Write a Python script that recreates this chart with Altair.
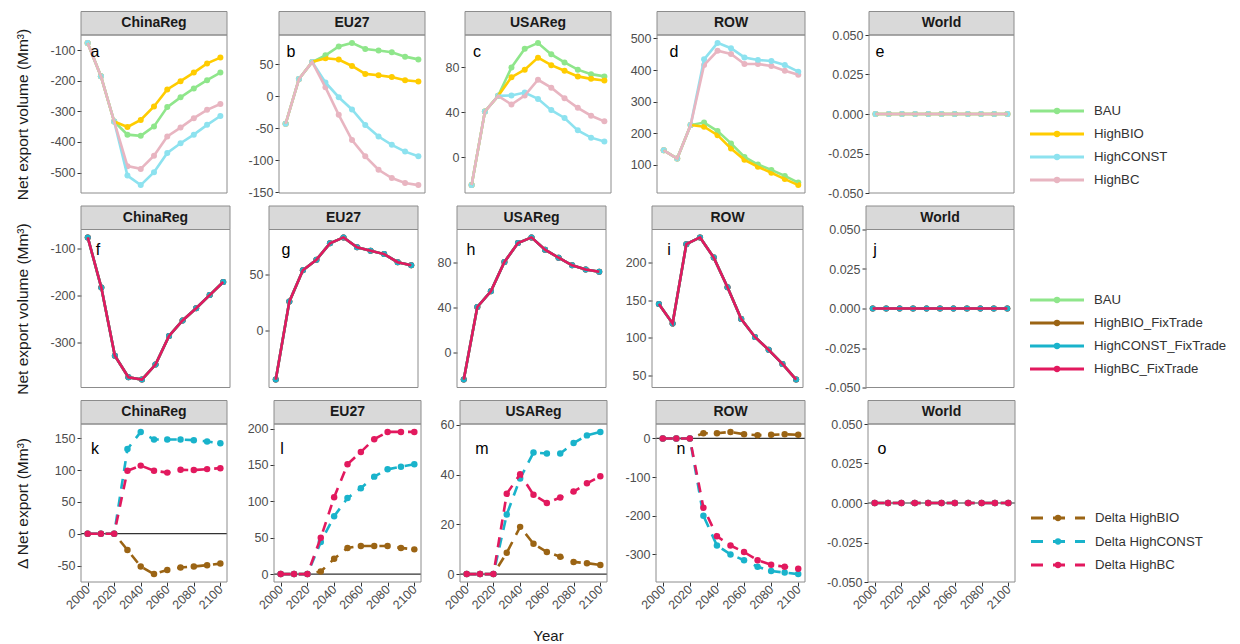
import altair as alt
import pandas as pd

years = [2000, 2010, 2020, 2030, 2040, 2050, 2060, 2070, 2080, 2090, 2100]
regions = ["ChinaReg", "EU27", "USAReg", "ROW", "World"]

# ---------- Row 1 (a-e): net export volume by scenario ----------
bau = {
    "ChinaReg": [-76, -185, -333, -376, -380, -349, -286, -254, -225, -198, -173],
    "EU27": [-43, 27, 53.6, 64, 78, 83.5, 74, 71.6, 69, 62, 57.7],
    "USAReg": [-24.7, 40.8, 54.7, 80, 96.6, 101.8, 91.6, 84.4, 78, 74, 72],
    "ROW": [146, 120, 226, 234, 207, 168, 125, 101, 84, 65, 44],
    "World": [0, 0, 0, 0, 0, 0, 0, 0, 0, 0, 0],
}
high_bio = {
    "ChinaReg": [-76, -185, -333, -351, -328, -284, -228, -201, -173, -143, -124],
    "EU27": [-43, 27, 53.6, 59.5, 57.5, 47.4, 35, 33, 30, 25, 23],
    "USAReg": [-24.7, 40.8, 54.7, 71.3, 78, 88.7, 82, 77, 72, 69.8, 68.4],
    "ROW": [146, 120, 226, 221, 194, 152, 116, 94, 75, 55, 36],
    "World": [0, 0, 0, 0, 0, 0, 0, 0, 0, 0, 0],
}
high_const = {
    "ChinaReg": [-76, -185, -333, -510, -541, -499, -436, -404, -376, -344, -315],
    "EU27": [-43, 27, 53.6, 21.6, -1.5, -20.6, -45, -63, -76, -86.6, -94],
    "USAReg": [-24.7, 40.8, 54.7, 55, 57.6, 52, 42, 35, 24, 17.5, 14],
    "ROW": [146, 120, 226, 434, 486, 469, 440, 432, 429, 416, 395],
    "World": [0, 0, 0, 0, 0, 0, 0, 0, 0, 0, 0],
}
high_bc = {
    "ChinaReg": [-76, -185, -333, -479, -488, -445, -382, -353, -322, -295, -276],
    "EU27": [-43, 27, 53.6, 14, -29, -68.5, -94, -115, -128, -135.6, -139],
    "USAReg": [-24.7, 40.8, 54.7, 47, 55, 69, 62, 52.5, 44, 37, 32],
    "ROW": [146, 120, 226, 416, 461, 451, 419, 419, 413, 398, 385],
    "World": [0, 0, 0, 0, 0, 0, 0, 0, 0, 0, 0],
}

# ---------- Row 2 (f-j): FixTrade scenarios (all coincide) ----------
fixtrade = {
    "ChinaReg": [-77, -184, -329, -375, -380, -348, -287, -254, -228, -200, -172],
    "EU27": [-44, 25.6, 53.5, 63, 77.6, 82.9, 74, 71, 68, 60.8, 58],
    "USAReg": [-24, 40.6, 54.6, 80.6, 97.5, 102.5, 91.6, 84.4, 77.7, 74, 72],
    "ROW": [145, 119, 225, 234, 207, 167.5, 125, 101, 83.8, 65, 44],
    "World": [0, 0, 0, 0, 0, 0, 0, 0, 0, 0, 0],
}

# ---------- Row 3 (k-o): delta net export ----------
delta_bio = {
    "ChinaReg": [0, 0, 0, -25.5, -51.6, -63.5, -57, -53, -51.6, -49.5, -47],
    "EU27": [0, 0, 0, 3.6, 21, 36, 38.6, 38.6, 38.6, 36, 34],
    "USAReg": [0, 0, 0, 8.6, 19, 12.2, 8.9, 7, 4.9, 4.4, 3.7],
    "ROW": [0, 0, 0, 13.6, 13.6, 17, 11, 8.5, 9.4, 11, 9.4],
    "World": [0, 0, 0, 0, 0, 0, 0, 0, 0, 0, 0],
}
delta_const = {
    "ChinaReg": [0, 0, 0, 133, 160, 148, 148, 148, 147, 145, 142],
    "EU27": [0, 0, 0, 44, 79.5, 104.5, 118, 134, 144, 147.7, 151],
    "USAReg": [0, 0, 0, 24, 38.5, 48.9, 48.5, 48.5, 52.7, 55.8, 57.2],
    "ROW": [0, 0, 0, -200, -277, -300, -315, -332, -343, -347, -351],
    "World": [0, 0, 0, 0, 0, 0, 0, 0, 0, 0, 0],
}
delta_bc = {
    "ChinaReg": [0, 0, 0, 99, 107, 99, 96, 100.5, 100, 101.5, 103],
    "EU27": [0, 0, 0, 50, 105.5, 151, 168, 185.5, 195.5, 195.5, 195.5],
    "USAReg": [0, 0, 0, 32.3, 40.2, 31.9, 28.6, 30.8, 33.2, 36.5, 39.4],
    "ROW": [0, 0, 0, -179, -253, -277, -294, -315, -327, -332, -337],
    "World": [0, 0, 0, 0, 0, 0, 0, 0, 0, 0, 0],
}

# ---------- Series names, colours and tick labels ----------
row1_names = ["BAU", "HighBIO", "HighCONST", "HighBC"]
row1_colors = ["#8fe68b", "#ffcc00", "#8de2ef", "#e8b5c1"]
row2_names = ["BAU", "HighBIO_FixTrade", "HighCONST_FixTrade", "HighBC_FixTrade"]
row2_colors = ["#8fe68b", "#9b6414", "#19b3cb", "#e2195e"]
row3_names = ["Delta HighBIO", "Delta HighCONST", "Delta HighBC"]
row3_colors = ["#9b6414", "#19b3cb", "#e2195e"]

letters = [["a", "b", "c", "d", "e"], ["f", "g", "h", "i", "j"], ["k", "l", "m", "n", "o"]]
world_ticks = [-0.05, -0.025, 0, 0.025, 0.05]
row1_ticks = {"ChinaReg": [-500, -400, -300, -200, -100], "EU27": [-150, -100, -50, 0, 50],
              "USAReg": [0, 40, 80], "ROW": [100, 200, 300, 400, 500]}
row2_ticks = {"ChinaReg": [-300, -200, -100], "EU27": [0, 50],
              "USAReg": [0, 40, 80], "ROW": [50, 100, 150, 200]}
row3_ticks = {"ChinaReg": [-50, 0, 50, 100, 150], "EU27": [0, 50, 100, 150, 200],
              "USAReg": [0, 20, 40, 60], "ROW": [-300, -200, -100, 0]}
year_ticks = [2000, 2020, 2040, 2060, 2080, 2100]

ytitle_vol = "Net export volume (Mm\u00b3)"
ytitle_delta = "\u0394 Net export (Mm\u00b3)"


def long_table(series_dicts, names):
    recs = []
    for name, d in zip(names, series_dicts):
        for r in regions:
            for y, v in zip(years, d[r]):
                recs.append({"region": r, "series": name, "year": y, "value": v})
    return pd.DataFrame(recs)


df1 = long_table([bau, high_bio, high_const, high_bc], row1_names)
df2 = long_table([fixtrade, fixtrade, fixtrade, fixtrade], row2_names)
df3 = long_table([delta_bio, delta_const, delta_bc], row3_names)

# ---------- layout (pixels) ----------
H = 158
STRIP = 23.5
FONT = "Liberation Sans"
GRAY = "#8c8c8c"
LAYOUT = [
    dict(lefts=[82, 280, 466, 658, 870], rights=[228, 426, 612, 806, 1015],
         ldx=[14, 12, 12, 17, 11], ldy=17, leg_y=[76, 145]),
    dict(lefts=[82, 270, 458, 653, 867], rights=[231, 419, 607, 804, 1015],
         ldx=[17, 17, 14, 17, 9], ldy=20, leg_y=[70.5, 139.5]),
    dict(lefts=[82, 275, 461, 657, 869], rights=[228, 422, 608, 806, 1016],
         ldx=[14, 8, 22, 25, 14], ldy=25, leg_y=[94, 141]),
]
DASH = [10, 8]
MINUS_FIX = "replace(datum.label, '\u2212', '-')"


def y_enc(row, region, first_col, title):
    kw = dict(values=world_ticks if region == "World" else [row1_ticks, row2_ticks, row3_ticks][row][region],
              labelExpr=MINUS_FIX, tickSize=4, tickColor="#333333", labelColor="#4d4d4d",
              labelFontSize=12.5, labelPadding=2, domain=False, grid=False)
    if region == "World":
        kw["format"] = ".3f"
    if first_col:
        kw.update(minExtent=40, maxExtent=40, titlePadding=11, titleFontSize=15.5,
                  titleColor="#1a1a1a", titleFontWeight="normal")
    if region == "World":
        sc = alt.Scale(domain=[-0.05, 0.05], nice=False, zero=False)
    else:
        sc = alt.Scale(zero=False, nice=False, padding=7.9)
    return alt.Y("value:Q", scale=sc, axis=alt.Axis(**kw), title=title if first_col else None)


def x_enc(row, with_title):
    sc = alt.Scale(domain=[1995, 2105], nice=False, zero=False)
    if row < 2:
        return alt.X("year:Q", scale=sc, axis=None)
    kw = dict(values=year_ticks, format="d", labelAngle=315, labelAlign="right", labelBaseline="middle",
              labelOverlap=False, tickSize=4, tickColor="#333333", labelColor="#4d4d4d",
              labelFontSize=12.5, labelPadding=1, domain=False, grid=False)
    if with_title:
        kw.update(titleFontSize=15, titleColor="#1a1a1a", titleFontWeight="normal",
                  titleX=88, titleY=53, titleBaseline="middle")
        return alt.X("year:Q", scale=sc, axis=alt.Axis(**kw), title="Year")
    return alt.X("year:Q", scale=sc, axis=alt.Axis(**kw), title=None)


def panel(row, ci, df, names, colors):
    lay = LAYOUT[row]
    W = lay["rights"][ci] - lay["lefts"][ci]
    region = regions[ci]
    sub = df[df.region == region]
    ytitle = ytitle_delta if row == 2 else ytitle_vol
    ye = y_enc(row, region, ci == 0, ytitle)
    xe = x_enc(row, row == 2 and ci == 2)
    lab = pd.DataFrame({"label": [region], "letter": [letters[row][ci]]})
    layers = [
        alt.Chart(lab).mark_rect(fill="#d9d9d9", stroke=GRAY, strokeWidth=1).encode(
            x=alt.value(0), x2=alt.value(W), y=alt.value(-STRIP), y2=alt.value(0)),
        alt.Chart(lab).mark_text(fontWeight="bold", fontSize=14, color="#1a1a1a", font=FONT,
                                 baseline="middle", align="center").encode(
            x=alt.value(W / 2), y=alt.value(-STRIP / 2), text="label:N"),
    ]
    if row == 2:
        layers.append(alt.Chart(pd.DataFrame({"value": [0.0]})).mark_rule(
            color="#333333", strokeWidth=1.2).encode(y=ye))
        for n, c in zip(names, colors):
            d = sub[sub.series == n]
            layers.append(alt.Chart(d).mark_line(color=c, strokeWidth=2.6, strokeDash=DASH).encode(x=xe, y=ye))
            layers.append(alt.Chart(d).mark_point(color=c, filled=True, opacity=1, size=42).encode(x=xe, y=ye))
    else:
        # points first (HighCONST on top), then lines (HighBC on top)
        pt_order = [names[0], names[1], names[3], names[2]]
        for n in pt_order:
            c = colors[names.index(n)]
            d = sub[sub.series == n]
            layers.append(alt.Chart(d).mark_point(color=c, filled=True, opacity=1, size=36).encode(x=xe, y=ye))
        for n, c in zip(names, colors):
            d = sub[sub.series == n]
            layers.append(alt.Chart(d).mark_line(color=c, strokeWidth=2.6).encode(x=xe, y=ye))
    layers.append(alt.Chart(lab).mark_rect(fillOpacity=0, stroke=GRAY, strokeWidth=1).encode(
        x=alt.value(0), x2=alt.value(W), y=alt.value(0), y2=alt.value(H)))
    layers.append(alt.Chart(lab).mark_text(fontSize=16, color="black", font=FONT,
                                           align="center", baseline="middle").encode(
        x=alt.value(lay["ldx"][ci]), y=alt.value(lay["ldy"]), text="letter:N"))
    return alt.layer(*layers).properties(width=W, height=H)


def spacer(w):
    return alt.Chart(pd.DataFrame({"v": [0]})).mark_point(opacity=0).encode(
        x=alt.value(0), y=alt.value(0)).properties(width=w, height=H)


def legend(row, names, colors, dashed):
    lay = LAYOUT[row]
    d = pd.DataFrame({"series": names, "color": colors})
    ye = alt.Y("series:N", sort=names, axis=None,
               scale=alt.Scale(type="point", range=lay["leg_y"], padding=0))
    ce = alt.Color("color:N", scale=None)
    rule_kw = dict(strokeWidth=2.8)
    if dashed:
        rule_kw["strokeDash"] = [12, 10]
    rule = alt.Chart(d).mark_rule(**rule_kw).encode(
        x=alt.value(16), x2=alt.value(70), y=ye, color=ce)
    pts = alt.Chart(d).mark_point(filled=True, opacity=1, size=40).encode(
        x=alt.value(43), y=ye, color=ce)
    txt = alt.Chart(d).mark_text(align="left", baseline="middle", fontSize=13.2,
                                 color="#333333", font=FONT).encode(
        x=alt.value(80), y=ye, text="series:N")
    return alt.layer(rule, pts, txt).properties(width=60, height=H)


rows = []
rows_spec = [(df1, row1_names, row1_colors, False),
             (df2, row2_names, row2_colors, False),
             (df3, row3_names, row3_colors, True)]
for r, (df, names, colors, dashed) in enumerate(rows_spec):
    lay = LAYOUT[r]
    cells = []
    for ci in range(5):
        cells.append(panel(r, ci, df, names, colors))
        if ci < 4:
            cells.append(spacer(lay["lefts"][ci + 1] - lay["rights"][ci]))
    cells.append(legend(r, names, colors, dashed))
    rows.append(alt.hconcat(*cells, spacing=0, bounds="flush"))

chart = alt.vconcat(*rows, spacing=3.5).properties(
    padding={"left": 6, "top": 2, "right": 0, "bottom": 0}
).configure(
    font=FONT
).configure_view(
    stroke="transparent"
)

chart.save("out.html", embed_options={"renderer": "svg", "actions": False})
